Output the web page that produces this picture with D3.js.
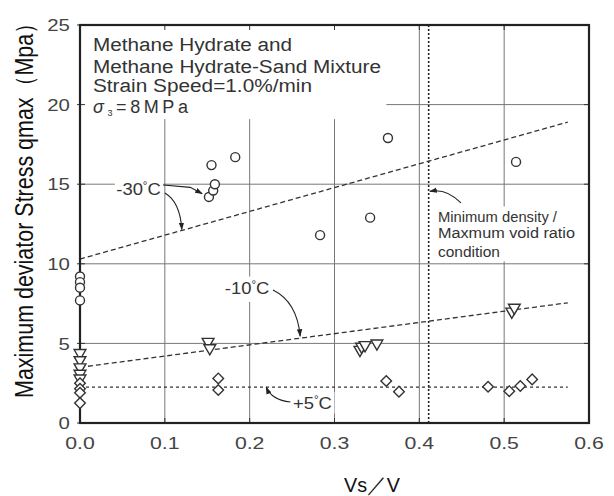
<!DOCTYPE html>
<html lang="en">
<head>
<meta charset="UTF-8">
<title>Maximum deviator stress vs Vs/V</title>
<script src="https://d3js.org/d3.v7.min.js"></script>
<style>
    body { margin: 0; background: #fff; }
    svg { display: block; font-family: "Liberation Sans", Arial, sans-serif; }
</style>
</head>
<body>
<div id="chart"></div>
<script>
    // tick labels
    const xTicks = [0, 0.1, 0.2, 0.3, 0.4, 0.5, 0.6];
    const yTicks = [0, 5, 10, 15, 20, 25];

    // -30°C  (circles)
    const c30x = [0, 0, 0, 0, 0.152, 0.157, 0.159, 0.155, 0.183, 0.283, 0.342, 0.363, 0.514];
    const c30y = [9.2, 8.85, 8.5, 7.7, 14.2, 14.6, 15.0, 16.2, 16.7, 11.8, 12.9, 17.9, 16.4];

    // -10°C  (down triangles)
    const c10x = [0, 0, 0, 0, 0, 0.151, 0.153, 0.330, 0.332, 0.336, 0.350, 0.509, 0.512];
    const c10y = [4.4, 3.95, 3.5, 3.1, 2.8, 5.1, 4.7, 4.6, 4.8, 4.9, 5.0, 7.0, 7.25];

    // +5°C  (diamonds)
    const c5x = [0, 0, 0, 0, 0.163, 0.163, 0.361, 0.376, 0.481, 0.506, 0.519, 0.533];
    const c5y = [2.5, 2.15, 1.9, 1.25, 2.8, 2.07, 2.64, 1.97, 2.28, 2.0, 2.32, 2.74];

    // fitted trend lines [x, y]
    const fit30 = [[0, 10.3], [0.575, 18.9]];
    const fit10 = [[0, 3.5], [0.575, 7.55]];
    const fit5 = [[0, 2.25], [0.575, 2.25]];
    const minDensityX = 0.411;

    const boxLines = ["Methane Hydrate and", "Methane Hydrate-Sand Mixture", "Strain Speed=1.0%/min"];
    const noteLines = ["Minimum density /", "Maxmum void ratio", "condition"];

    const W = 614, H = 496;
    const x = d3.scaleLinear().domain([0, 0.6]).range([80, 589]);
    const y = d3.scaleLinear().domain([0, 25]).range([423, 25]);

    const svg = d3.select("#chart").append("svg")
        .attr("width", W).attr("height", H);

    // the scanned figure is a bit wider than tall, text looks stretched
    function stretch(t, k) {
        const n = t.node().getComputedTextLength();
        t.attr("textLength", n * k).attr("lengthAdjust", "spacingAndGlyphs");
        return t;
    }

    const defs = svg.append("defs");
    defs.append("marker")
        .attr("id", "arrow")
        .attr("viewBox", "0 0 10 10")
        .attr("refX", 9).attr("refY", 5)
        .attr("markerWidth", 7).attr("markerHeight", 7)
        .attr("orient", "auto")
        .append("path").attr("d", "M0,1.5 L10,5 L0,8.5 Z").attr("fill", "#222");

    // grid
    const grid = svg.append("g").attr("stroke", "#777").attr("stroke-width", 1);
    xTicks.slice(1, -1).forEach(t => {
        grid.append("line").attr("x1", x(t)).attr("x2", x(t)).attr("y1", y(25)).attr("y2", y(0));
    });
    yTicks.slice(1, -1).forEach(t => {
        grid.append("line").attr("x1", x(0)).attr("x2", x(0.6)).attr("y1", y(t)).attr("y2", y(t));
    });

    // white boxes behind texts
    const bg = svg.append("g").attr("fill", "#fff");
    bg.append("rect").attr("x", x(0) + 1).attr("y", y(25) + 1)
        .attr("width", x(0.36) - x(0)).attr("height", y(19.15) - y(25));
    bg.append("rect").attr("x", x(0.418)).attr("y", y(13.6))
        .attr("width", x(0.595) - x(0.418)).attr("height", y(10.15) - y(13.6));
    bg.append("rect").attr("x", x(0.041)).attr("y", y(15.2))
        .attr("width", x(0.098) - x(0.041)).attr("height", y(14.1) - y(15.2));
    bg.append("rect").attr("x", x(0.168)).attr("y", y(9.2))
        .attr("width", x(0.228) - x(0.168)).attr("height", y(7.6) - y(9.2));
    bg.append("rect").attr("x", x(0.249)).attr("y", y(1.95))
        .attr("width", x(0.3) - x(0.249)).attr("height", y(0.6) - y(1.95));

    // ticks
    const ticks = svg.append("g").attr("stroke", "#333").attr("stroke-width", 1);
    xTicks.forEach(t => {
        ticks.append("line").attr("x1", x(t)).attr("x2", x(t)).attr("y1", y(25)).attr("y2", y(25) + 5);
        ticks.append("line").attr("x1", x(t)).attr("x2", x(t)).attr("y1", y(0)).attr("y2", y(0) - 5);
    });
    yTicks.forEach(t => {
        ticks.append("line").attr("x1", x(0) - 3).attr("x2", x(0) + 5).attr("y1", y(t)).attr("y2", y(t));
        ticks.append("line").attr("x1", x(0.6) - 5).attr("x2", x(0.6)).attr("y1", y(t)).attr("y2", y(t));
    });

    // min density / max void ratio line
    svg.append("line")
        .attr("x1", x(minDensityX)).attr("x2", x(minDensityX))
        .attr("y1", y(25)).attr("y2", y(0))
        .attr("stroke", "#222").attr("stroke-width", 1.6)
        .attr("stroke-dasharray", "2,2");

    // trend lines
    const line = d3.line().x(d => x(d[0])).y(d => y(d[1]));
    [[fit30, "5,3"], [fit10, "5,3"], [fit5, "3,3"]].forEach(([pts, dash]) => {
        svg.append("path").attr("d", line(pts))
            .attr("fill", "none").attr("stroke", "#333").attr("stroke-width", 1.3)
            .attr("stroke-dasharray", dash);
    });

    // frame
    svg.append("rect")
        .attr("x", x(0)).attr("y", y(25))
        .attr("width", x(0.6) - x(0)).attr("height", y(0) - y(25))
        .attr("fill", "none").attr("stroke", "#222").attr("stroke-width", 2.2);

    // points
    const pts = svg.append("g").attr("fill", "#fff").attr("stroke", "#333").attr("stroke-width", 1.4);
    pts.selectAll(".c30").data(d3.zip(c30x, c30y)).enter().append("circle")
        .attr("cx", d => x(d[0])).attr("cy", d => y(d[1])).attr("r", 4.5);
    const tri = d3.symbol().type(d3.symbolTriangle).size(60);
    pts.selectAll(".c10").data(d3.zip(c10x, c10y)).enter().append("path")
        .attr("d", tri)
        .attr("transform", d => `translate(${x(d[0])},${y(d[1])}) rotate(180)`);
    const dia = d3.symbol().type(d3.symbolSquare).size(56);
    pts.selectAll(".c5").data(d3.zip(c5x, c5y)).enter().append("path")
        .attr("d", dia)
        .attr("transform", d => `translate(${x(d[0])},${y(d[1])}) rotate(45)`);

    // axis labels
    const lab = svg.append("g").attr("fill", "#444").attr("font-size", 17);
    yTicks.forEach(t => {
        stretch(lab.append("text").attr("x", 70).attr("y", y(t)).attr("dy", "0.36em")
            .attr("text-anchor", "end").text(t), 1.2);
    });
    xTicks.forEach(t => {
        stretch(lab.append("text").attr("x", x(t)).attr("y", 443).attr("dy", "0.36em")
            .attr("text-anchor", "middle").text(t.toFixed(1)), 1.25);
    });

    svg.append("text")
        .attr("transform", "translate(33,205) rotate(-90) scale(1,1.25)")
        .attr("text-anchor", "middle").attr("font-size", 20).attr("fill", "#111")
        .attr("textLength", 386).attr("lengthAdjust", "spacingAndGlyphs")
        .text("Maximum deviator Stress qmax（Mpa）");
    svg.append("text")
        .attr("x", 372).attr("y", 492)
        .attr("text-anchor", "middle").attr("font-size", 21).attr("fill", "#111")
        .attr("textLength", 56).attr("lengthAdjust", "spacingAndGlyphs")
        .text("Vs／V");

    // legend box text
    const boxY = [23.75, 22.37, 21.17];
    const boxLen = [199, 288, 219];
    const box = svg.append("g").attr("fill", "#333").attr("font-size", 18);
    boxLines.forEach((s, i) => {
        box.append("text").attr("x", x(0.0153)).attr("y", y(boxY[i])).attr("dy", "0.36em")
            .attr("textLength", boxLen[i]).attr("lengthAdjust", "spacingAndGlyphs").text(s);
    });
    const sig = box.append("text").attr("x", x(0.0153)).attr("y", y(19.85)).attr("dy", "0.36em")
        .attr("textLength", 95).attr("lengthAdjust", "spacing");
    sig.append("tspan").attr("font-style", "italic").text("σ");
    sig.append("tspan").attr("font-size", 9).attr("dy", 3).text("3");
    sig.append("tspan").attr("dy", -3).text("=8MPa");

    // temperature annotations
    const ann = svg.append("g").attr("fill", "#333").attr("font-size", 16);
    function degLabel(xv, yv, pre, anchor) {
        const t = ann.append("text").attr("x", x(xv)).attr("y", y(yv)).attr("dy", "0.36em")
            .attr("text-anchor", anchor);
        t.append("tspan").text(pre);
        t.append("tspan").attr("font-size", 10).attr("dy", -6).text("°");
        t.append("tspan").attr("dy", 6).text("C");
        stretch(t, 1.15);
    }
    degLabel(0.069, 14.7, "-30", "middle");
    degLabel(0.197, 8.48, "-10", "middle");
    degLabel(0.251, 1.26, "+5", "start");

    const arr = svg.append("g").attr("fill", "none").attr("stroke", "#222").attr("stroke-width", 1.1);
    const curve = (a, c, b) => `M${x(a[0])},${y(a[1])} Q${x(c[0])},${y(c[1])} ${x(b[0])},${y(b[1])}`;
    arr.append("path").attr("d", line([[0.098, 14.95], [0.130, 14.8], [0.144, 14.4]]))
        .attr("marker-end", "url(#arrow)");
    arr.append("path").attr("d", curve([0.100, 14.45], [0.118, 13.9], [0.120, 12.15]))
        .attr("marker-end", "url(#arrow)");
    arr.append("path").attr("d", curve([0.2275, 8.35], [0.256, 7.6], [0.2595, 5.45]))
        .attr("marker-end", "url(#arrow)");
    arr.append("path").attr("d", curve([0.248, 1.32], [0.226, 1.45], [0.2195, 2.25]))
        .attr("marker-end", "url(#arrow)");
    arr.append("path").attr("d", curve([0.449, 13.82], [0.432, 14.75], [0.4125, 14.55]))
        .attr("marker-end", "url(#arrow)");

    // minimum density note
    const noteY = [12.94, 11.93, 10.74];
    const noteLen = [119, 137, 62];
    const note = svg.append("g").attr("fill", "#333").attr("font-size", 14);
    noteLines.forEach((s, i) => {
        note.append("text").attr("x", x(0.422)).attr("y", y(noteY[i])).attr("dy", "0.36em")
            .attr("textLength", noteLen[i]).attr("lengthAdjust", "spacingAndGlyphs").text(s);
    });
</script>
</body>
</html>
